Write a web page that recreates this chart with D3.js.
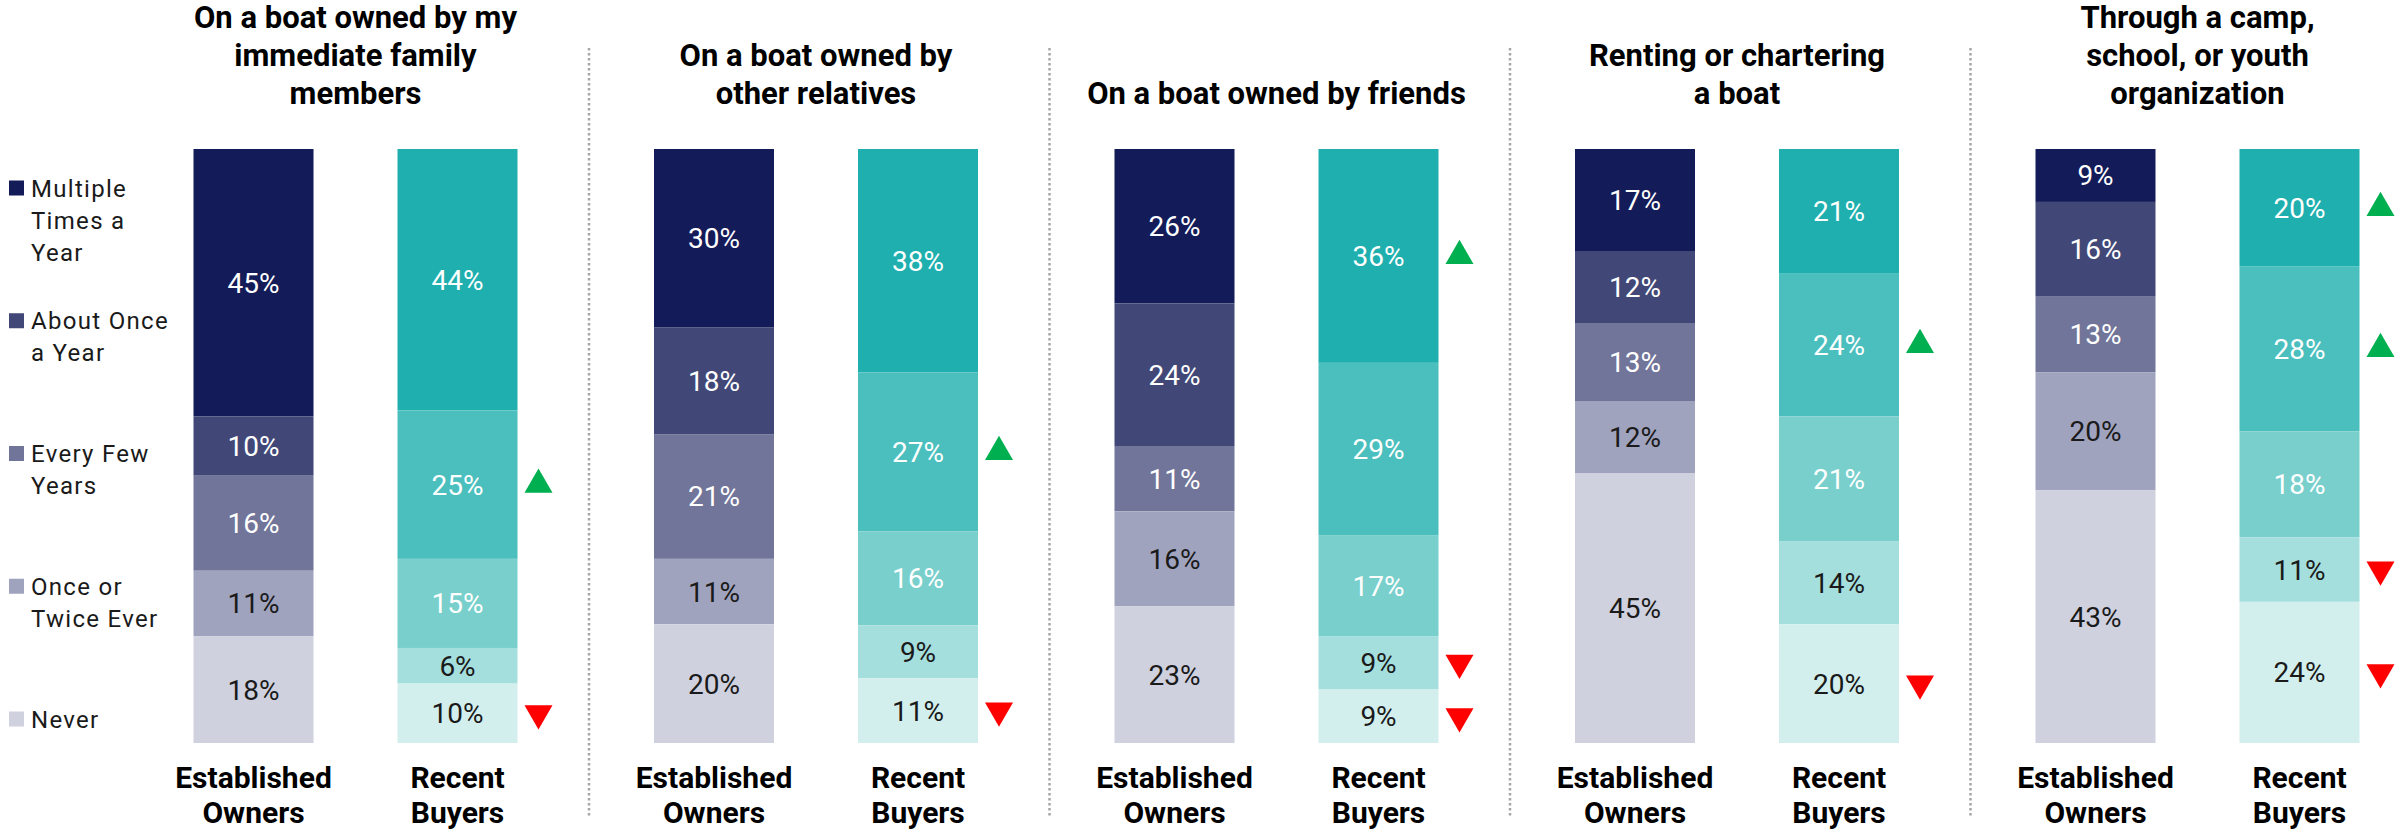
<!DOCTYPE html>
<html lang="en">
<head>
  <meta charset="UTF-8">
  <title>Boating exposure by owner type</title>
  <style>
    body {
      margin: 0;
      padding: 0;
      background: #ffffff;
      font-family: Roboto, "Liberation Sans", sans-serif;
    }
    .title { font-size: 31px; font-weight: 700; fill: #000; }
    .group-label { font-size: 30px; font-weight: 700; fill: #000; }
    .value { font-size: 28px; }
    .legend text { font-size: 24px; fill: #1a1a1a; letter-spacing: 1.3px; }
    .sep { stroke: #a6a6a6; stroke-width: 2.5; stroke-dasharray: 2.5 2.5; }
  </style>
</head>
<body>
  <div id="chart"></div>
  <script src="https://d3js.org/d3.v7.min.js"></script>
  <script>
    const panelTitles = [
      ["On a boat owned by my", "immediate family", "members"],
      ["On a boat owned by", "other relatives"],
      ["On a boat owned by friends"],
      ["Renting or chartering", "a boat"],
      ["Through a camp,", "school, or youth", "organization"]
    ];
    const frequency = ["Multiple Times a Year", "About Once a Year", "Every Few Years", "Once or Twice Ever", "Never"];
    const legendLines = [["Multiple", "Times a", "Year"], ["About Once", "a Year"], ["Every Few", "Years"], ["Once or", "Twice Ever"], ["Never"]];
    const groups = ["Established Owners", "Recent Buyers"];

    // percent per frequency, one row per panel
    const established = [
      [45, 10, 16, 11, 18],
      [30, 18, 21, 11, 20],
      [26, 24, 11, 16, 23],
      [17, 12, 13, 12, 45],
      [9, 16, 13, 20, 43]
    ];
    const recent = [
      [44, 25, 15, 6, 10],
      [38, 27, 16, 9, 11],
      [36, 29, 17, 9, 9],
      [21, 24, 21, 14, 20],
      [20, 28, 18, 11, 24]
    ];
    // significance of recent vs established: 1 higher, -1 lower
    const recentSig = [
      [0, 1, 0, 0, -1],
      [0, 1, 0, 0, -1],
      [1, 0, 0, -1, -1],
      [0, 1, 0, 0, -1],
      [1, 1, 0, -1, -1]
    ];

    const estColors = ["#131b58", "#414877", "#717599", "#a0a3be", "#cfd1df"];
    const recColors = ["#1eafae", "#4bbfbe", "#78cfcc", "#a5dfdd", "#d2efee"];

    const width = 2400, height = 836;
    const barTop = 149, barBottom = 743;

    const svg = d3.select("#chart").append("svg")
      .attr("width", width)
      .attr("height", height);

    const panelX = d3.scaleBand().domain(d3.range(panelTitles.length)).range([128.5, 2431]);
    const groupX = d3.scaleBand().domain(groups).range([65, 389]).paddingInner(84 / 204);
    const y = d3.scaleLinear().domain([0, 1]).range([barTop, barBottom]);

    // rows for the stack
    const rows = [];
    panelTitles.forEach((t, p) => {
      [established[p], recent[p]].forEach((vals, g) => {
        const r = { panel: p, group: groups[g] };
        frequency.forEach((f, i) => r[f] = vals[i]);
        rows.push(r);
      });
    });
    const series = d3.stack().keys(frequency).offset(d3.stackOffsetExpand)(rows);

    // separators
    svg.selectAll(".sep")
      .data(d3.range(1, panelTitles.length))
      .join("line")
      .attr("class", "sep")
      .attr("x1", d => panelX(d)).attr("x2", d => panelX(d))
      .attr("y1", 48).attr("y2", 817);

    const panels = svg.selectAll(".panel")
      .data(panelTitles)
      .join("g")
      .attr("class", "panel")
      .attr("transform", (d, i) => `translate(${panelX(i)},0)`);

    const centerX = (groupX.range()[0] + groupX.range()[1]) / 2;

    // titles, bottom aligned
    panels.append("text")
      .attr("class", "title")
      .attr("text-anchor", "middle")
      .selectAll("tspan")
      .data(d => d.map((line, i) => ({ line, off: d.length - 1 - i })))
      .join("tspan")
      .attr("x", centerX)
      .attr("y", d => 104 - d.off * 38)
      .text(d => d.line);

    // group labels
    panels.selectAll(".group-label")
      .data(groups)
      .join("text")
      .attr("class", "group-label")
      .attr("text-anchor", "middle")
      .selectAll("tspan")
      .data(g => g.split(" ").map((w, i) => ({ g, w, i })))
      .join("tspan")
      .attr("x", d => groupX(d.g) + groupX.bandwidth() / 2)
      .attr("y", d => 788 + d.i * 35)
      .text(d => d.w);

    // segments
    series.forEach((s, k) => {
      s.forEach((seg, r) => {
        const row = rows[r];
        const isRec = row.group === groups[1];
        const x0 = panelX(row.panel) + groupX(row.group);
        const y0 = y(seg[0]), y1 = y(seg[1]);
        const mid = (y0 + y1) / 2;
        svg.append("rect")
          .attr("x", x0)
          .attr("y", y0)
          .attr("width", groupX.bandwidth())
          .attr("height", y1 - y0)
          .attr("fill", isRec ? recColors[k] : estColors[k]);
        svg.append("text")
          .attr("class", "value")
          .attr("x", x0 + groupX.bandwidth() / 2)
          .attr("y", mid + 10)
          .attr("text-anchor", "middle")
          .attr("fill", k >= 3 ? "#1a1a1a" : "#ffffff")
          .text(row[s.key] + "%");
        if (isRec) {
          const sig = recentSig[row.panel][k];
          if (sig !== 0) {
            svg.append("path")
              .attr("d", d3.symbol(d3.symbolTriangle, 340)())
              .attr("transform", `translate(${x0 + groupX.bandwidth() + 21},${mid}) rotate(${sig > 0 ? 0 : 180})`)
              .attr("fill", sig > 0 ? "#00b050" : "#ff0000");
          }
        }
      });
    });

    // legend
    const legendY = d3.scalePoint().domain(frequency).range([188, 719]);
    const legend = svg.append("g").attr("class", "legend")
      .selectAll("g")
      .data(frequency)
      .join("g")
      .attr("transform", d => `translate(0,${legendY(d)})`);

    legend.append("rect")
      .attr("x", 9).attr("y", -7.5)
      .attr("width", 15).attr("height", 15)
      .attr("fill", (d, i) => estColors[i]);

    legend.append("text")
      .selectAll("tspan")
      .data((d, i) => legendLines[i].map((line, j) => ({ line, j })))
      .join("tspan")
      .attr("x", 31)
      .attr("y", d => 8.5 + d.j * 32)
      .text(d => d.line);
  </script>
</body>
</html>
